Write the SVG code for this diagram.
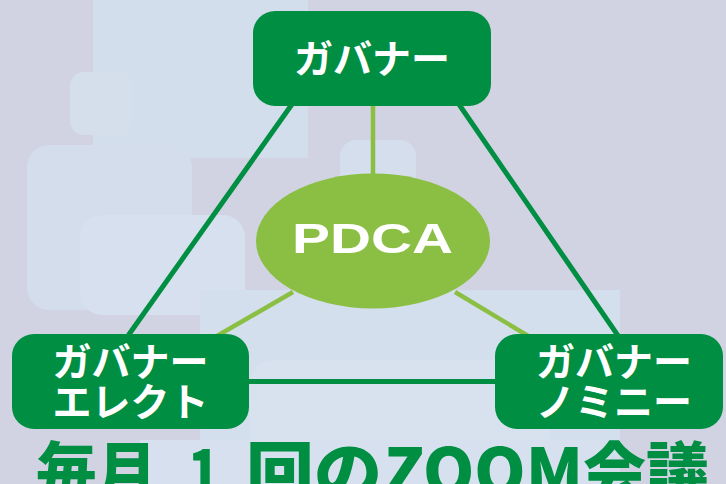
<svg xmlns="http://www.w3.org/2000/svg" width="726" height="484" viewBox="0 0 726 484">
<style>
.node{fill:#008E43}
.ntext{fill:#ffffff;font-family:"Noto Sans CJK JP","Noto Sans",sans-serif;font-weight:700;font-size:39px;text-anchor:middle}
.dark{stroke:#008E43;stroke-width:5;fill:none}
.light{stroke:#8BBF44;stroke-width:4.5;fill:none}
.title{fill:#008E43;font-family:"Noto Sans CJK JP","Noto Sans",sans-serif;font-weight:900;font-size:64px}
</style>
<g id="background">
<rect x="0" y="0" width="726" height="484" fill="#D1D3E3"/>
<rect x="93" y="0" width="215" height="158" fill="#D3DEED"/>
<rect x="70" y="72" width="63" height="63" rx="14" fill="#D5DFEC"/>
<rect x="27" y="145" width="165" height="165" rx="22" fill="#D3DDEC"/>
<rect x="80" y="215" width="165" height="100" rx="22" fill="#D6E0EE"/>
<rect x="340" y="140" width="76" height="180" rx="16" fill="#D4DEED"/>
<rect x="200" y="290" width="420" height="194" fill="#D4DFED"/>
<rect x="250" y="360" width="300" height="124" rx="24" fill="#D8E2EF"/>
<rect x="140" y="440" width="460" height="44" fill="#D6E0EE"/>
</g>
<g id="connectors">
<line class="light" x1="373" y1="100" x2="373" y2="176"/>
<line class="light" x1="293" y1="292" x2="210" y2="340"/>
<line class="light" x1="455" y1="292" x2="535" y2="340"/>
<line class="dark" x1="295" y1="100" x2="125" y2="340"/>
<line class="dark" x1="456" y1="100" x2="621" y2="340"/>
<line class="dark" x1="245" y1="381.5" x2="500" y2="381.5"/>
</g>
<g id="node-pdca">
<ellipse cx="373" cy="241" rx="117" ry="67.5" fill="#8BBF44"/>
<text x="292" y="253" fill="#ffffff" font-family="Liberation Sans, Arial, sans-serif" font-weight="700" font-size="43" textLength="161" lengthAdjust="spacingAndGlyphs">PDCA</text>
</g>
<g id="node-governor">
<rect class="node" x="253" y="11" width="238" height="95" rx="22"/>
<text class="ntext" x="372" y="73">ガバナー</text>
</g>
<g id="node-elect">
<rect class="node" x="12" y="334" width="237" height="95" rx="22"/>
<text class="ntext" x="130.5" y="376">ガバナー</text>
<text class="ntext" x="130.5" y="416">エレクト</text>
</g>
<g id="node-nominee">
<rect class="node" x="495" y="334" width="228" height="95" rx="22"/>
<text class="ntext" x="614" y="376">ガバナー</text>
<text class="ntext" x="614" y="416">ノミニー</text>
</g>
<g id="title">
<text class="title" x="36" y="495" textLength="121" lengthAdjust="spacingAndGlyphs">毎月</text>
<text class="title" x="188" y="495" textLength="32" lengthAdjust="spacingAndGlyphs">1</text>
<text class="title" x="246" y="495" textLength="136" lengthAdjust="spacingAndGlyphs">回の</text>
<text class="title" x="384" y="495" textLength="199" lengthAdjust="spacingAndGlyphs">ZOOM</text>
<text class="title" x="583" y="495" textLength="126" lengthAdjust="spacingAndGlyphs">会議</text>
</g>
</svg>
